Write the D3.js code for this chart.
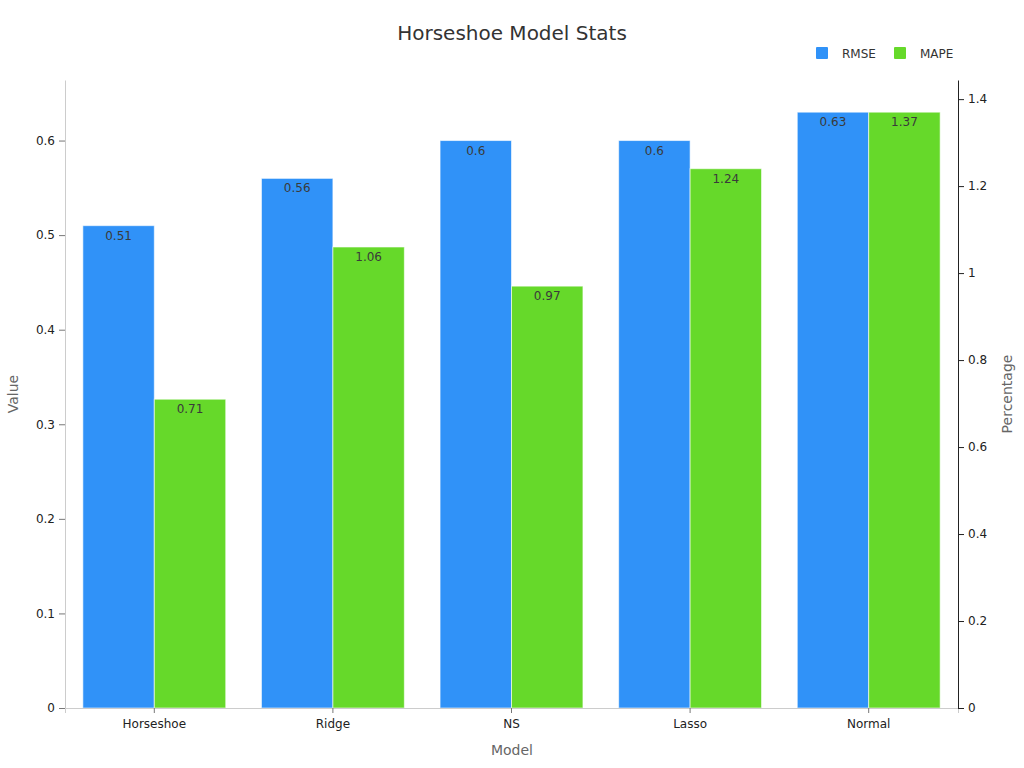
<!DOCTYPE html>
<html>
<head>
<meta charset="utf-8">
<script src="https://cdn.jsdelivr.net/npm/d3@7"></script>
<style>
  body { margin: 0; background: #fff; }
  svg { display: block; font-family: 'DejaVu Sans', sans-serif; }
</style>
</head>
<body>
<div id="chart"></div>
<script>
  // data
  const models = ["Horseshoe", "Ridge", "NS", "Lasso", "Normal"];
  const rmse   = [0.51, 0.56, 0.6, 0.6, 0.63];
  const mape   = [0.71, 1.06, 0.97, 1.24, 1.37];
  const seriesNames = ["RMSE", "MAPE"];
  const leftTicks  = [0, 0.1, 0.2, 0.3, 0.4, 0.5, 0.6];
  const rightTicks = [0, 0.2, 0.4, 0.6, 0.8, 1, 1.2, 1.4];

  const W = 1024, H = 768;
  const m = { top: 80, right: 66, bottom: 60, left: 65 };
  const colors = { RMSE: "#3092f8", MAPE: "#66d92a" };

  const svg = d3.select("#chart").append("svg")
    .attr("width", W).attr("height", H);

  const x = d3.scaleBand().domain(models)
    .range([m.left, W - m.right]).paddingInner(0.2).paddingOuter(0.1);
  const xSub = d3.scaleBand().domain(seriesNames).range([0, x.bandwidth()]);

  const yL = d3.scaleLinear().domain([0, d3.max(rmse) * 1.054]).range([H - m.bottom, m.top]);
  const yR = d3.scaleLinear().domain([0, d3.max(mape) * 1.054]).range([H - m.bottom, m.top]);

  const rows = models.map((k, i) => ({ model: k, RMSE: rmse[i], MAPE: mape[i] }));

  // bars
  const groups = svg.append("g").selectAll("g").data(rows).join("g")
    .attr("transform", d => `translate(${x(d.model)},0)`);

  seriesNames.forEach(s => {
    const y = s === "RMSE" ? yL : yR;
    groups.append("rect")
      .attr("x", xSub(s))
      .attr("y", d => y(d[s]))
      .attr("width", xSub.bandwidth())
      .attr("height", d => y(0) - y(d[s]))
      .attr("fill", colors[s])
      .attr("stroke", "rgba(255,255,255,0.6)")
      .attr("stroke-width", 1);
    groups.append("text")
      .attr("x", xSub(s) + xSub.bandwidth() / 2)
      .attr("y", d => y(d[s]) + 14)
      .attr("text-anchor", "middle")
      .attr("font-size", 12)
      .attr("fill", "#3a3a3a")
      .text(d => d[s]);
  });

  // x axis
  const xAxis = svg.append("g")
    .attr("transform", `translate(0,${H - m.bottom})`)
    .call(d3.axisBottom(x.copy().paddingInner(0).paddingOuter(0)).tickSizeOuter(0).tickSize(5).tickPadding(6));
  xAxis.select(".domain").attr("stroke", "#ccc");
  xAxis.selectAll(".tick line").attr("stroke", "#777");
  xAxis.selectAll(".tick text").attr("font-size", 12).attr("fill", "#222")
    .attr("font-family", "'DejaVu Sans', sans-serif");

  // left axis
  const lAxis = svg.append("g")
    .attr("transform", `translate(${m.left},0)`)
    .call(d3.axisLeft(yL).tickValues(leftTicks).tickFormat(d3.format("~g")).tickSize(6).tickSizeOuter(0).tickPadding(4));
  lAxis.select(".domain").attr("stroke", "#ccc");
  lAxis.selectAll(".tick line").attr("stroke", "#777");
  lAxis.selectAll(".tick text").attr("font-size", 12).attr("fill", "#222")
    .attr("font-family", "'DejaVu Sans', sans-serif");

  // right axis
  const rAxis = svg.append("g")
    .attr("transform", `translate(${W - m.right},0)`)
    .call(d3.axisRight(yR).tickValues(rightTicks).tickFormat(d3.format("~g")).tickSize(6).tickSizeOuter(0).tickPadding(4));
  rAxis.select(".domain").attr("stroke", "#222");
  rAxis.selectAll(".tick line").attr("stroke", "#222");
  rAxis.selectAll(".tick text").attr("font-size", 12).attr("fill", "#222")
    .attr("font-family", "'DejaVu Sans', sans-serif");

  // axis titles
  svg.append("text")
    .attr("x", W / 2).attr("y", 755)
    .attr("text-anchor", "middle").attr("font-size", 14).attr("fill", "#666")
    .text("Model");
  svg.append("text")
    .attr("transform", `translate(18,${(m.top + H - m.bottom) / 2}) rotate(-90)`)
    .attr("text-anchor", "middle").attr("font-size", 14).attr("fill", "#666")
    .text("Value");
  svg.append("text")
    .attr("transform", `translate(1012,${(m.top + H - m.bottom) / 2}) rotate(-90)`)
    .attr("text-anchor", "middle").attr("font-size", 14).attr("fill", "#666")
    .text("Percentage");

  // title
  svg.append("text")
    .attr("x", W / 2).attr("y", 40)
    .attr("text-anchor", "middle").attr("font-size", 20).attr("fill", "#333")
    .text("Horseshoe Model Stats");

  // legend
  const legendX = [816, 894];
  const leg = svg.append("g").selectAll("g").data(seriesNames).join("g")
    .attr("transform", (d, i) => `translate(${legendX[i]},47)`);
  leg.append("rect").attr("width", 12).attr("height", 12)
    .attr("fill", d => colors[d]).attr("rx", 1);
  leg.append("text").attr("x", 26).attr("y", 11)
    .attr("font-size", 12).attr("fill", "#333").text(d => d);
</script>
</body>
</html>
